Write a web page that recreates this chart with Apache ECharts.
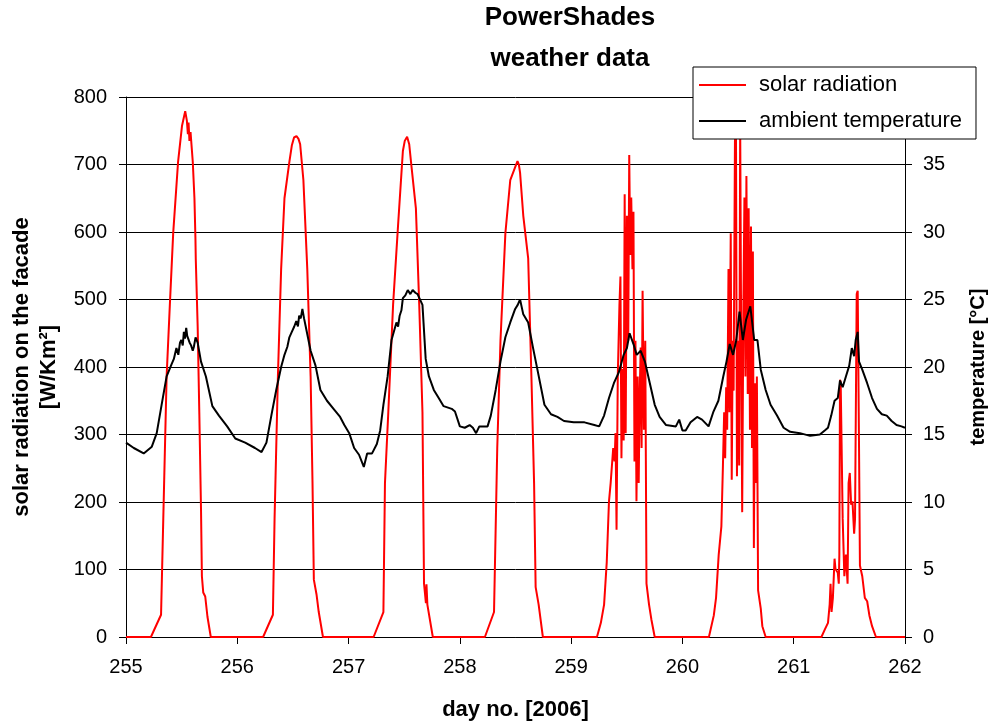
<!DOCTYPE html>
<html><head><meta charset="utf-8">
<script src="https://cdn.jsdelivr.net/npm/echarts@6/dist/echarts.min.js"></script>
<style>html,body{margin:0;padding:0;background:#fff}#c{width:996px;height:726px}</style>
</head><body><div id="c"></div>
<script>
const FONT = '"Liberation Sans", Arial, sans-serif';
const titleLines = ['PowerShades', 'weather data'];
const seriesNames = ['solar radiation', 'ambient temperature'];

const solarDays = [
255.0,255.224,255.315,255.335,255.365,255.394,255.424,255.468,255.503,255.532,255.547,255.556,255.562,255.57,255.58,255.6,255.615,255.624,255.627,255.632,255.644,255.659,255.674,255.682,255.694,255.712,255.732,255.762,
256.232,256.32,256.335,256.365,256.394,256.424,256.468,256.49,256.51,256.532,256.55,256.565,256.594,256.629,256.659,256.676,256.688,256.712,256.732,256.77,
257.225,257.313,257.327,257.357,257.4,257.444,257.488,257.505,257.526,257.545,257.561,257.605,257.635,257.664,257.678,257.695,257.7,257.708,257.757,
258.225,258.307,258.336,258.365,258.409,258.453,258.497,258.518,258.53,258.541,258.57,258.614,258.643,258.667,258.681,258.708,258.746,
259.232,259.267,259.296,259.32,259.34,259.355,259.378,259.39,259.399,259.408,259.419,259.434,259.443,259.452,259.46,259.472,259.481,259.49,259.501,259.513,259.522,259.531,259.54,259.551,259.56,259.569,259.578,259.587,259.598,259.607,259.616,259.625,259.633,259.642,259.654,259.666,259.677,259.7,259.721,259.751,
260.238,260.282,260.302,260.326,260.35,260.364,260.375,260.384,260.393,260.402,260.414,260.422,260.434,260.443,260.452,260.46,260.472,260.481,260.49,260.501,260.51,260.519,260.528,260.537,260.548,260.557,260.566,260.575,260.587,260.595,260.607,260.616,260.625,260.633,260.642,260.651,260.66,260.669,260.68,260.704,260.718,260.748,
261.249,261.279,261.308,261.323,261.331,261.34,261.352,261.367,261.375,261.396,261.405,261.41,261.416,261.422,261.44,261.455,261.469,261.484,261.493,261.504,261.516,261.528,261.543,261.551,261.566,261.575,261.587,261.595,261.616,261.639,261.66,261.68,261.704,261.739,262.0
];
const solarValues = [
0,0,33,175,386,492,598,704,757,779,765,745,762,735,748,704,650,590,560,562,460,330,190,90,66,60,30,0,
0,33,175,386,545,650,704,728,740,742,738,730,677,545,386,228,85,63,37,0,
0,37,228,333,492,608,720,735,741,730,704,635,492,333,79,50,78,48,0,
0,37,280,439,598,677,696,705,700,688,624,561,386,228,74,48,0,
0,21,48,111,201,228,280,260,302,159,386,492,534,265,397,291,656,302,624,439,714,566,651,545,630,260,439,201,386,228,360,429,280,513,307,439,79,48,26,0,
0,32,58,122,164,254,333,265,370,307,545,333,598,233,439,365,735,760,238,439,254,760,439,185,492,651,386,683,360,635,307,608,280,571,132,376,228,386,69,42,16,0,
0,11,21,48,79,37,58,116,101,95,79,122,381,378,175,90,122,79,228,243,196,201,153,175,508,513,280,106,90,58,53,32,16,0,0
];

const tempDays = [
255.0,255.07,255.159,255.232,255.276,255.32,255.365,255.409,255.43,255.453,255.47,255.485,255.497,255.51,255.52,255.53,255.541,255.55,255.56,255.572,255.585,255.6,255.61,255.625,255.644,255.674,255.718,255.776,255.835,255.909,255.982,
256.071,256.159,256.218,256.262,256.306,256.35,256.394,256.424,256.45,256.468,256.49,256.512,256.53,256.545,256.556,256.57,256.585,256.6,256.615,256.659,256.703,256.747,256.806,256.865,256.924,256.962,
257.006,257.05,257.094,257.137,257.167,257.211,257.254,257.284,257.313,257.351,257.386,257.43,257.445,257.459,257.475,257.488,257.51,257.532,257.555,257.576,257.6,257.62,257.664,257.693,257.722,257.766,257.81,257.854,257.927,257.956,
258.0,258.044,258.088,258.117,258.146,258.175,258.249,258.278,258.322,258.365,258.409,258.453,258.497,258.52,258.541,258.57,258.614,258.658,258.702,258.76,258.819,258.877,258.936,
259.023,259.12,259.208,259.252,259.296,259.34,259.384,259.428,259.472,259.501,259.525,259.56,259.589,259.625,259.663,259.707,259.751,259.795,259.853,259.941,259.971,
260.0,260.029,260.073,260.132,260.176,260.235,260.279,260.323,260.367,260.396,260.425,260.455,260.484,260.513,260.543,260.572,260.61,260.645,260.674,260.704,260.748,260.792,260.85,260.909,260.968,
261.056,261.147,261.235,261.279,261.308,261.337,261.367,261.396,261.416,261.44,261.469,261.499,261.522,261.543,261.557,261.575,261.587,261.616,261.66,261.704,261.748,261.792,261.836,261.88,261.924,261.968,262.0
];
const tempValues = [
14.4,14.0,13.6,14.1,15.1,17.2,19.3,20.2,20.6,21.4,20.9,21.8,22.0,21.6,22.6,22.1,22.9,22.3,22.4,21.8,21.6,21.2,21.5,22.2,21.8,20.4,19.3,17.1,16.4,15.6,14.7,
14.4,14.0,13.7,14.4,16.4,18.3,20.0,20.9,21.5,22.2,22.6,23.0,23.4,23.0,23.8,23.6,24.3,23.6,23.0,21.2,20.1,18.3,17.5,16.9,16.3,15.7,
15.1,14.0,13.5,12.6,13.6,13.6,14.3,15.3,17.2,19.3,22.0,23.3,23.0,23.8,24.2,25.1,25.3,25.7,25.4,25.7,25.5,25.4,24.6,20.6,19.3,18.3,17.7,17.1,16.9,16.7,
15.6,15.5,15.7,15.5,15.1,15.6,15.6,16.4,18.3,20.4,22.2,23.3,24.3,24.6,25.0,23.9,23.3,21.4,19.6,17.2,16.5,16.3,16.0,
15.9,15.9,15.7,15.6,16.4,17.7,18.8,19.6,20.9,21.4,22.5,21.7,20.9,21.2,20.4,18.8,17.2,16.3,15.7,15.6,16.1,
15.3,15.3,15.9,16.3,16.1,15.6,16.7,17.5,19.3,20.4,21.7,20.9,22.0,24.1,22.0,23.5,24.5,22.0,22.0,19.8,18.3,17.2,16.4,15.5,15.2,
15.1,14.9,15.0,15.3,15.5,16.4,17.5,17.7,19.0,18.5,19.3,20.1,21.4,20.8,22.0,22.6,20.4,19.8,18.8,17.7,16.9,16.5,16.4,16.0,15.7,15.6,15.5
];

const zip = (xs, ys) => xs.map((x, i) => [x, ys[i]]);
const chart = echarts.init(document.getElementById('c'), null, {renderer: 'canvas'});
const black = '#000';
const titleStyle = (t) => ({text: t, font: 'bold 26px ' + FONT, fill: black, align: 'center', verticalAlign: 'middle', textAlign: 'center', textVerticalAlign: 'middle'});
chart.setOption({
  animation: false,
  backgroundColor: '#fff',
  graphic: [
    {type: 'text', x: 570, y: 18, z: 10, style: titleStyle(titleLines[0])},
    {type: 'text', x: 570, y: 59, z: 10, style: titleStyle(titleLines[1])}
  ],
  legend: {
    data: seriesNames, orient: 'vertical', left: 693, top: 67,
    icon: 'rect', itemWidth: 47, itemHeight: 2, itemGap: 12,
    padding: [6, 14, 6, 6], borderColor: black, borderWidth: 1, borderRadius: 0,
    backgroundColor: '#fff', selectedMode: false,
    textStyle: {fontFamily: FONT, fontSize: 22, color: black, lineHeight: 24, padding: [0, 0, 0, 8]}
  },
  grid: {left: 122, right: 79, top: 97, bottom: 89, containLabel: false},
  xAxis: {
    type: 'value', min: 255, max: 262, interval: 1,
    name: 'day no. [2006]', nameLocation: 'middle', nameGap: 62,
    nameTextStyle: {fontFamily: FONT, fontSize: 22, fontWeight: 'bold', color: black},
    axisLine: {show: true, lineStyle: {color: black, width: 1}},
    axisTick: {show: true, inside: false, length: 7, lineStyle: {color: black}},
    axisLabel: {fontFamily: FONT, fontSize: 20, color: black, margin: 20},
    splitLine: {show: false}
  },
  yAxis: [
    {
      type: 'value', min: 0, max: 800, interval: 100, position: 'left',
      name: 'solar radiation on the facade\n[W/Km²]', nameLocation: 'middle', nameRotate: 90, nameGap: 64,
      nameTextStyle: {fontFamily: FONT, fontSize: 22, fontWeight: 'bold', color: black, lineHeight: 27, align: 'center'},
      axisLine: {show: true, lineStyle: {color: black, width: 1}},
      axisTick: {show: true, inside: false, length: 7, lineStyle: {color: black}},
      axisLabel: {fontFamily: FONT, fontSize: 20, color: black, margin: 19},
      splitLine: {show: true, lineStyle: {color: black, width: 1}}
    },
    {
      type: 'value', min: 0, max: 40, interval: 5, position: 'right',
      name: 'temperature [°C]', nameLocation: 'middle', nameRotate: 90, nameGap: 63,
      nameTextStyle: {fontFamily: FONT, fontSize: 20, fontWeight: 'bold', color: black},
      axisLine: {show: true, lineStyle: {color: black, width: 1}},
      axisTick: {show: true, inside: false, length: 7, lineStyle: {color: black}},
      axisLabel: {fontFamily: FONT, fontSize: 20, color: black, margin: 18},
      splitLine: {show: false}
    }
  ],
  series: [
    {name: seriesNames[0], type: 'line', yAxisIndex: 0, data: zip(solarDays, solarValues), showSymbol: false, symbol: 'none',
     itemStyle: {color: '#ff0000'}, lineStyle: {color: '#ff0000', width: 2}, z: 2},
    {name: seriesNames[1], type: 'line', yAxisIndex: 1, data: zip(tempDays, tempValues), showSymbol: false, symbol: 'none',
     itemStyle: {color: black}, lineStyle: {color: black, width: 2}, z: 3}
  ]
});
</script></body></html>
